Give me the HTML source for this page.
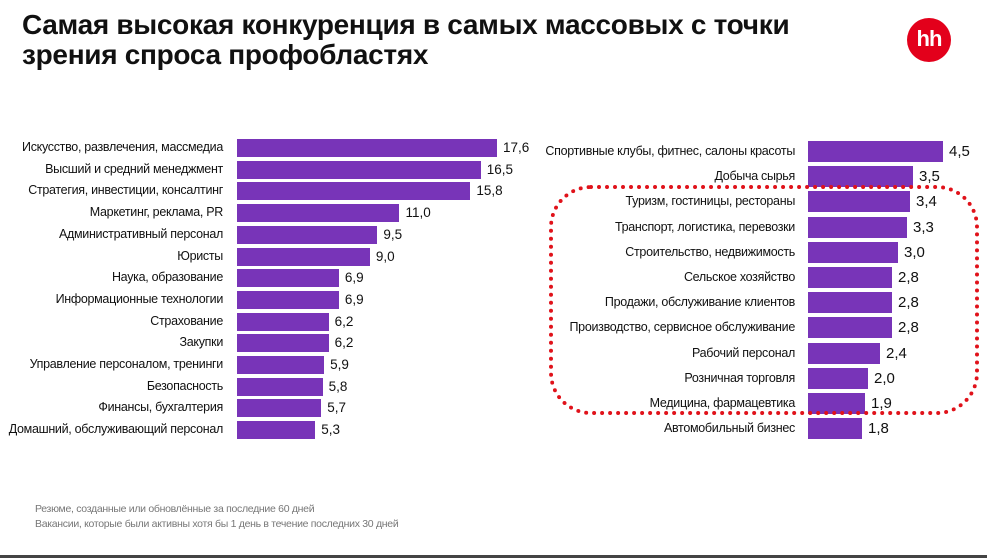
<!DOCTYPE html>
<html><head><meta charset="utf-8"><style>
body{margin:0;width:987px;height:558px;background:#fff;position:relative;overflow:hidden;font-family:"Liberation Sans",sans-serif;}
.t{position:absolute;left:22px;top:10px;font-size:28px;font-weight:bold;line-height:30px;color:#111;letter-spacing:-0.3px}
.lg{position:absolute;left:907px;top:18px;width:44px;height:44px;border-radius:50%;background:#e3001b;color:#fff;font-weight:bold;font-size:22px;text-align:center;line-height:42px;letter-spacing:-1px}
.l{position:absolute;font-size:12.5px;color:#111;text-align:right;white-space:nowrap;letter-spacing:-0.3px}
.b{position:absolute;background:#7834b8}
.v{position:absolute;color:#111;white-space:nowrap}
.f{position:absolute;left:35px;font-size:10.5px;color:#777;letter-spacing:-0.3px}
.box{position:absolute;left:549px;top:185px;width:422px;height:222px;border:4px dotted #e0121a;border-radius:42px}
.bot{position:absolute;left:0;top:555px;width:987px;height:3px;background:#444}
</style></head><body>
<div class="t">Самая высокая конкуренция в самых массовых с точки<br>зрения спроса профобластях</div>
<div class="lg">hh</div>
<div id="c"></div>
<div class="box"></div>
<div class="f" style="top:503px">Резюме, созданные или обновлённые за последние 60 дней</div>
<div class="f" style="top:518px">Вакансии, которые были активны хотя бы 1 день в течение последних 30 дней</div>
<div class="bot"></div>
<script>
var L=[["Искусство, развлечения, массмедиа",17.6],["Высший и средний менеджмент",16.5],["Стратегия, инвестиции, консалтинг",15.8],["Маркетинг, реклама, PR",11.0],["Административный персонал",9.5],["Юристы",9.0],["Наука, образование",6.9],["Информационные технологии",6.9],["Страхование",6.2],["Закупки",6.2],["Управление персоналом, тренинги",5.9],["Безопасность",5.8],["Финансы, бухгалтерия",5.7],["Домашний, обслуживающий персонал",5.3]];
var R=[["Спортивные клубы, фитнес, салоны красоты",4.5],["Добыча сырья",3.5],["Туризм, гостиницы, рестораны",3.4],["Транспорт, логистика, перевозки",3.3],["Строительство, недвижимость",3.0],["Сельское хозяйство",2.8],["Продажи, обслуживание клиентов",2.8],["Производство, сервисное обслуживание",2.8],["Рабочий персонал",2.4],["Розничная торговля",2.0],["Медицина, фармацевтика",1.9],["Автомобильный бизнес",1.8]];
var h="";
L.forEach(function(d,i){var y=139+i*21.7,w=d[1]*14.77;
h+='<div class="l" style="right:764px;top:'+(y+1)+'px">'+d[0]+'</div><div class="b" style="left:237px;top:'+y+'px;width:'+w+'px;height:18px"></div><div class="v" style="left:'+(237+w+6)+'px;top:'+(y+1)+'px;font-size:13.5px">'+d[1].toFixed(1).replace(".",",")+'</div>';});
R.forEach(function(d,i){var y=141+i*25.2,w=d[1]*30;
h+='<div class="l" style="right:192px;top:'+(y+3)+'px">'+d[0]+'</div><div class="b" style="left:808px;top:'+y+'px;width:'+w+'px;height:21px"></div><div class="v" style="left:'+(808+w+6)+'px;top:'+(y+2)+'px;font-size:15px">'+d[1].toFixed(1).replace(".",",")+'</div>';});
document.getElementById("c").innerHTML=h;
</script>
</body></html>
